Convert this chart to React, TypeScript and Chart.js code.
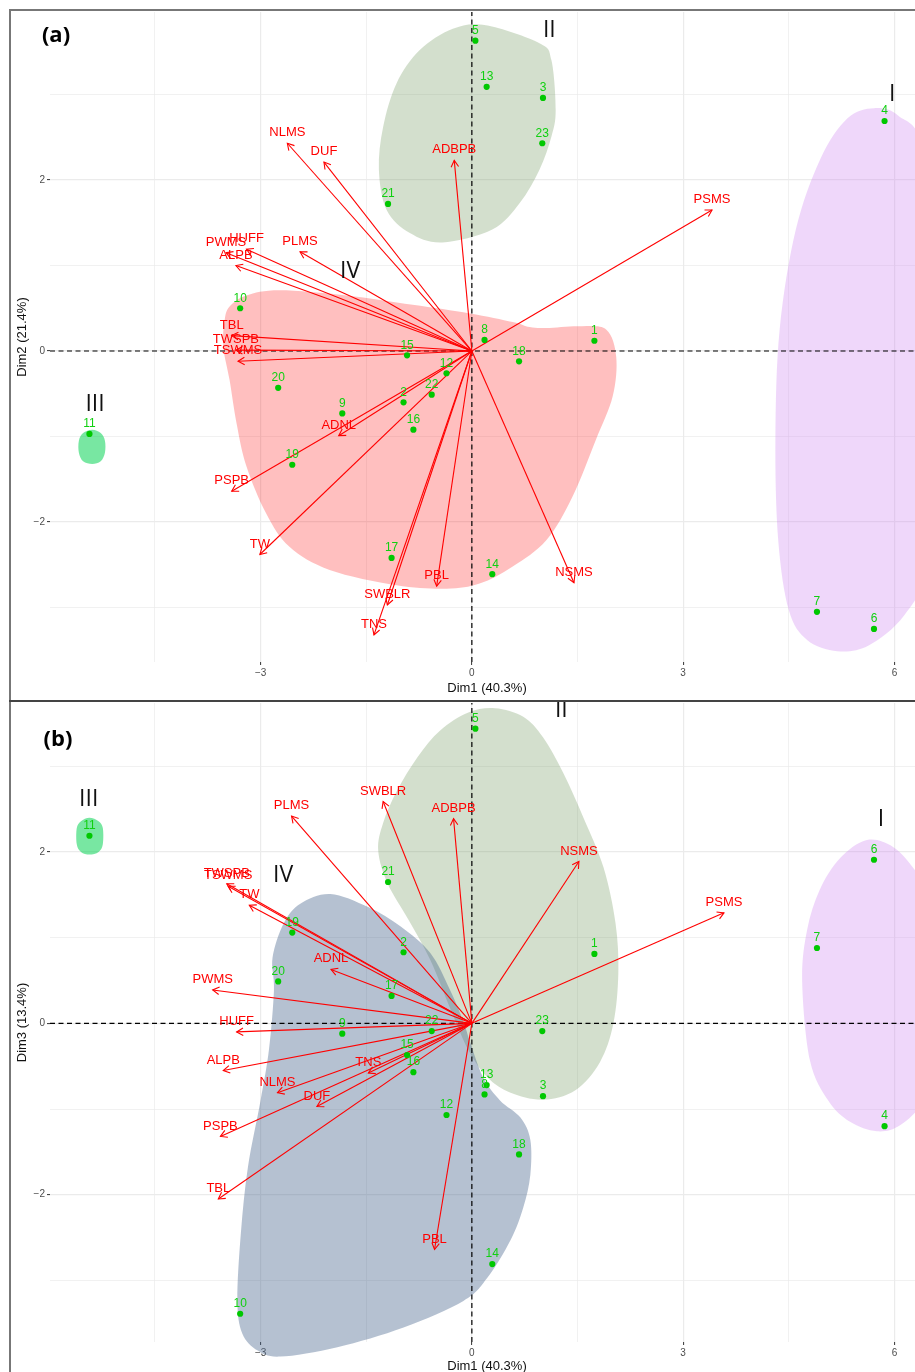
import React, { useEffect, useRef } from 'react';
import { Chart, registerables } from 'chart.js';

Chart.register(...registerables);

const FONT = "'Liberation Sans', Arial, Helvetica, sans-serif";
const GROUP_FONT = "'Open Sans', 'Liberation Sans', sans-serif";

// ---- individuals (samples) ----
const samples = ['1','2','3','4','5','6','7','8','9','10','11','12','13','14','15','16','17','18','19','20','21','22','23'];
const dim1 = [1.74, -0.97, 1.01, 5.86, 0.05, 5.71, 4.90, 0.18, -1.84, -3.29, -5.43, -0.36, 0.21, 0.29, -0.92, -0.83, -1.14, 0.67, -2.55, -2.75, -1.19, -0.57, 1.00];
const dim2 = [0.12, -0.60, 2.96, 2.69, 3.63, -3.25, -3.05, 0.13, -0.73, 0.50, -0.97, -0.26, 3.09, -2.61, -0.05, -0.92, -2.42, -0.12, -1.33, -0.43, 1.72, -0.51, 2.43];
const dim3 = [0.81, 0.83, -0.85, -1.20, 3.44, 1.91, 0.88, -0.83, -0.12, -3.39, 2.19, -1.07, -0.72, -2.81, -0.37, -0.57, 0.32, -1.53, 1.06, 0.49, 1.65, -0.09, -0.09];

// ---- variables (arrows) ----
const variables = ['NLMS','DUF','ADBPB','PSMS','HUFF','PWMS','ALPB','PLMS','TBL','TWSPB','TSWMS','ADNL','PSPB','TW','SWBLR','TNS','PBL','NSMS'];
const varDim1A = [-2.62, -2.10, -0.25, 3.41, -3.20, -3.49, -3.35, -2.44, -3.41, -3.35, -3.32, -1.89, -3.41, -3.01, -1.20, -1.39, -0.50, 1.45];
const varDim2A = [2.43, 2.21, 2.23, 1.65, 1.19, 1.15, 1.00, 1.16, 0.18, 0.01, -0.12, -0.99, -1.64, -2.38, -2.97, -3.32, -2.75, -2.71];
const varDim1B = [-2.76, -2.20, -0.26, 3.58, -3.34, -3.68, -3.53, -2.56, -3.60, -3.48, -3.46, -2.00, -3.57, -3.16, -1.26, -1.47, -0.53, 1.52];
const varDim3B = [-0.81, -0.97, 2.39, 1.29, -0.10, 0.39, -0.55, 2.42, -2.05, 1.63, 1.60, 0.63, -1.32, 1.38, 2.59, -0.58, -2.64, 1.89];

// ---- axes ----
const xTickValues = [-4.5, -3, -1.5, 0, 1.5, 3, 4.5, 6];
const xTickLabels = ['', '\u22123', '', '0', '', '3', '', '6'];
const yTickValues = [-3, -2, -1, 0, 1, 2, 3];
const yTickLabels = ['', '\u22122', '', '0', '', '2', ''];
const X_MIN = -5.99;
const X_MAX = 6.42;

// ---- group outlines ----
const hullA_II = [[0.20,3.81],[0.96,3.60],[1.13,3.40],[1.19,2.82],[1.13,2.51],[0.96,2.12],[0.68,1.73],[0.29,1.42],[-0.42,1.27],[-0.88,1.38],[-1.21,1.65],[-1.32,2.12],[-1.26,2.62],[-1.07,3.13],[-0.74,3.52],[-0.27,3.77]];
const hullA_IV = [[-3.44,0.52],[-3.20,0.65],[-2.73,0.71],[-1.78,0.65],[-0.84,0.54],[-0.03,0.44],[0.58,0.34],[0.82,0.28],[1.06,0.27],[1.53,0.29],[1.91,0.25],[2.05,-0.07],[2.00,-0.53],[1.76,-1.04],[1.43,-1.70],[1.06,-2.21],[0.58,-2.52],[0.11,-2.72],[-0.36,-2.78],[-1.07,-2.74],[-2.02,-2.56],[-2.59,-2.29],[-2.92,-1.90],[-3.20,-1.35],[-3.34,-0.85],[-3.44,-0.34],[-3.53,0.05],[-3.51,0.36]];
const hullA_I = [[5.71,2.84],[6.06,2.75],[6.42,2.35],[6.77,0.60],[6.84,-1.16],[6.56,-2.44],[6.14,-3.09],[5.64,-3.44],[5.19,-3.51],[4.76,-3.38],[4.50,-3.03],[4.35,-2.21],[4.31,-1.04],[4.37,0.25],[4.60,1.42],[4.95,2.25],[5.33,2.72]];
const hullA_III = [[-5.39,-0.92],[-5.27,-0.96],[-5.21,-1.05],[-5.21,-1.19],[-5.27,-1.29],[-5.39,-1.32],[-5.52,-1.29],[-5.58,-1.19],[-5.58,-1.05],[-5.52,-0.96]];

const hullB_II = [[0.33,3.68],[0.73,3.58],[1.01,3.34],[1.30,2.92],[1.58,2.41],[1.87,1.82],[2.04,1.17],[2.08,0.59],[2.01,0.00],[1.82,-0.45],[1.47,-0.78],[1.01,-0.89],[0.55,-0.81],[0.22,-0.63],[-0.05,-0.31],[-0.30,0.16],[-0.59,0.74],[-0.90,1.21],[-1.20,1.64],[-1.33,2.02],[-1.26,2.34],[-1.06,2.72],[-0.77,3.11],[-0.45,3.42],[-0.05,3.63]];
const hullB_IV = [[-2.01,1.51],[-1.48,1.36],[-1.01,1.13],[-0.59,0.82],[-0.31,0.39],[-0.12,0.02],[-0.02,-0.23],[0.16,-0.63],[0.40,-0.90],[0.69,-1.10],[0.83,-1.36],[0.83,-1.77],[0.73,-2.15],[0.55,-2.53],[0.22,-2.97],[-0.12,-3.24],[-0.97,-3.55],[-1.91,-3.78],[-2.72,-3.89],[-3.04,-3.82],[-3.26,-3.62],[-3.33,-3.23],[-3.28,-2.45],[-3.18,-1.68],[-3.00,-0.90],[-2.88,-0.30],[-2.81,0.39],[-2.83,0.77],[-2.67,1.17],[-2.43,1.40]];
const hullB_I = [[5.61,2.14],[5.98,2.06],[6.29,1.79],[6.65,1.32],[6.79,0.51],[6.72,-0.31],[6.43,-0.89],[6.08,-1.19],[5.75,-1.26],[5.37,-1.15],[5.06,-0.90],[4.80,-0.43],[4.69,0.49],[4.76,1.09],[4.94,1.56],[5.23,1.93]];
const hullB_III = [[-5.43,2.40],[-5.30,2.36],[-5.24,2.28],[-5.24,2.09],[-5.30,2.00],[-5.43,1.97],[-5.55,2.00],[-5.61,2.09],[-5.61,2.28],[-5.55,2.36]];

const groupNames = ['I', 'II', 'III', 'IV'];
const groupPosA = [[5.97, 3.00], [1.10, 3.75], [-5.35, -0.63], [-1.73, 0.93]];
const groupPosB = [[5.81, 2.38], [1.27, 3.65], [-5.44, 2.61], [-2.68, 1.73]];

const COL_II = 'rgba(110,150,90,0.30)';
const COL_IV_A = 'rgba(255,0,0,0.25)';
const COL_IV_B = 'rgba(70,100,140,0.40)';
const COL_I = 'rgba(205,130,240,0.32)';
const COL_III = 'rgba(0,210,80,0.53)';
const ARROW = '#ff0000';
const POINT = '#00c800';
const LABEL_GREEN = '#10d010';

type Cfg = {
  top: number; height: number; yMin: number; yMax: number; yTitle: string;
  ys: number[]; varX: number[]; varY: number[];
  hulls: { pts: number[][]; color: string }[];
  groupPos: number[][]; xAxisH: number; padB: number;
  tag: string; tagX: number; tagY: number;
};

const panelA: Cfg = {
  top: 11, height: 689, yMin: -3.637, yMax: 3.965, yTitle: 'Dim2 (21.4%)',
  ys: dim2, varX: varDim1A, varY: varDim2A,
  hulls: [
    { pts: hullA_II, color: COL_II },
    { pts: hullA_IV, color: COL_IV_A },
    { pts: hullA_I, color: COL_I },
    { pts: hullA_III, color: COL_III },
  ],
  groupPos: groupPosA, xAxisH: 33.8, padB: 4.2,
  tag: '(a)', tagX: 45, tagY: 25,
};

const panelB: Cfg = {
  top: 702, height: 680, yMin: -3.72, yMax: 3.74, yTitle: 'Dim3 (13.4%)',
  ys: dim3, varX: varDim1B, varY: varDim3B,
  hulls: [
    { pts: hullB_II, color: COL_II },
    { pts: hullB_IV, color: COL_IV_B },
    { pts: hullB_I, color: COL_I },
    { pts: hullB_III, color: COL_III },
  ],
  groupPos: groupPosB, xAxisH: 32.5, padB: 7.5,
  tag: '(b)', tagX: 47, tagY: 38,
};

const CANVAS_W = 913;

function Panel({ cfg }: { cfg: Cfg }) {
  const ref = useRef<HTMLCanvasElement | null>(null);
  useEffect(() => {
    const canvas = ref.current;
    if (!canvas) return;

    const biplot = {
      id: 'biplotDecor',
      beforeDatasetsDraw(chart: any) {
        const { ctx } = chart;
        const xs = chart.scales.x, ys = chart.scales.y;
        ctx.save();
        for (const h of cfg.hulls) {
          const p = h.pts.map(([a, b]) => [xs.getPixelForValue(a), ys.getPixelForValue(b)]);
          const n = p.length;
          ctx.beginPath();
          ctx.moveTo(p[0][0], p[0][1]);
          for (let i = 0; i < n; i++) {
            const p0 = p[(i - 1 + n) % n], p1 = p[i], p2 = p[(i + 1) % n], p3 = p[(i + 2) % n];
            const t = 1 / 6;
            ctx.bezierCurveTo(
              p1[0] + (p2[0] - p0[0]) * t, p1[1] + (p2[1] - p0[1]) * t,
              p2[0] - (p3[0] - p1[0]) * t, p2[1] - (p3[1] - p1[1]) * t,
              p2[0], p2[1]
            );
          }
          ctx.closePath();
          ctx.fillStyle = h.color;
          ctx.fill();
        }
        ctx.restore();
      },
      afterDatasetsDraw(chart: any) {
        const { ctx } = chart;
        const xs = chart.scales.x, ys = chart.scales.y;
        const ox = xs.getPixelForValue(0), oy = ys.getPixelForValue(0);
        ctx.save();
        // arrow heads
        ctx.strokeStyle = ARROW;
        ctx.lineWidth = 1.1;
        variables.forEach((_, i) => {
          const tx = xs.getPixelForValue(cfg.varX[i]);
          const ty = ys.getPixelForValue(cfg.varY[i]);
          const a = Math.atan2(ty - oy, tx - ox);
          const L = 7.5, w = Math.PI / 6;
          ctx.beginPath();
          ctx.moveTo(tx - L * Math.cos(a - w), ty - L * Math.sin(a - w));
          ctx.lineTo(tx, ty);
          ctx.lineTo(tx - L * Math.cos(a + w), ty - L * Math.sin(a + w));
          ctx.stroke();
        });
        ctx.textAlign = 'center';
        ctx.textBaseline = 'middle';
        // sample labels
        ctx.font = `12px ${FONT}`;
        ctx.fillStyle = LABEL_GREEN;
        samples.forEach((s, i) => {
          ctx.fillText(s, xs.getPixelForValue(dim1[i]), ys.getPixelForValue(cfg.ys[i]) - 10);
        });
        // variable labels
        ctx.font = `13px ${FONT}`;
        ctx.fillStyle = ARROW;
        variables.forEach((v, i) => {
          ctx.fillText(v, xs.getPixelForValue(cfg.varX[i]), ys.getPixelForValue(cfg.varY[i]) - 10.5);
        });
        // group labels
        ctx.font = `23px ${GROUP_FONT}`;
        ctx.fillStyle = '#111';
        groupNames.forEach((g, i) => {
          ctx.fillText(g, xs.getPixelForValue(cfg.groupPos[i][0]), ys.getPixelForValue(cfg.groupPos[i][1]));
        });
        // panel tag
        ctx.font = `bold 22px ${GROUP_FONT}`;
        ctx.fillStyle = '#000';
        ctx.fillText(cfg.tag, cfg.tagX, cfg.tagY);
        ctx.restore();
      },
    };

    const pointData = samples.map((_, i) => ({ x: dim1[i], y: cfg.ys[i] }));
    const arrowSets = variables.map((v, i) => ({
      label: v,
      data: [{ x: 0, y: 0 }, { x: cfg.varX[i], y: cfg.varY[i] }],
      showLine: true,
      borderColor: ARROW,
      borderWidth: 1.1,
      pointRadius: 0,
      order: 3,
    }));

    const chart = new Chart(canvas, {
      type: 'scatter',
      data: {
        datasets: [
          {
            label: 'individuals',
            data: pointData,
            pointRadius: 3.1,
            backgroundColor: POINT,
            borderWidth: 0,
            order: 1,
          } as any,
          ...arrowSets,
          {
            label: 'h0',
            data: [{ x: X_MIN, y: 0 }, { x: X_MAX, y: 0 }],
            showLine: true, borderColor: '#000', borderWidth: 1.2, borderDash: [5, 3.5],
            pointRadius: 0, order: 6,
          },
          {
            label: 'v0',
            data: [{ x: 0, y: cfg.yMin }, { x: 0, y: cfg.yMax }],
            showLine: true, borderColor: '#000', borderWidth: 1.2, borderDash: [5, 3.5],
            pointRadius: 0, order: 6,
          },
        ],
      },
      options: {
        animation: false,
        responsive: false,
        maintainAspectRatio: false,
        devicePixelRatio: 1,
        events: [],
        layout: { autoPadding: false, padding: { left: 2, top: 1, right: 0, bottom: cfg.padB } },
        plugins: { legend: { display: false }, tooltip: { enabled: false } },
        scales: {
          x: {
            type: 'linear',
            min: X_MIN,
            max: X_MAX,
            afterBuildTicks: (s: any) => { s.ticks = xTickValues.map((v) => ({ value: v })); },
            afterFit: (s: any) => { s.height = cfg.xAxisH; s.paddingLeft = 0; s.paddingRight = 0; s.paddingTop = 0; s.paddingBottom = 0; },
            border: { display: false },
            grid: {
              color: '#ebebeb',
              lineWidth: (c: any) => (xTickLabels[xTickValues.indexOf(c.tick?.value)] ? 1.2 : 0.7),
              tickLength: 3,
              tickWidth: 1,
              tickColor: (c: any) => (xTickLabels[xTickValues.indexOf(c.tick?.value)] ? '#333' : 'rgba(0,0,0,0)'),
            },
            ticks: {
              autoSkip: false, maxRotation: 0, minRotation: 0, padding: 2,
              color: '#4d4d4d', font: { size: 10, family: FONT },
              callback: (v: any) => xTickLabels[xTickValues.indexOf(Number(v))] ?? '',
            },
            title: {
              display: true, text: 'Dim1 (40.3%)', color: '#111',
              font: { size: 13, family: FONT }, padding: { top: 0, bottom: 0 },
            },
          },
          y: {
            type: 'linear',
            min: cfg.yMin,
            max: cfg.yMax,
            afterBuildTicks: (s: any) => { s.ticks = yTickValues.map((v) => ({ value: v })); },
            afterFit: (s: any) => { s.width = 37; s.paddingLeft = 0; s.paddingRight = 0; s.paddingTop = 0; s.paddingBottom = 0; },
            border: { display: false },
            grid: {
              color: '#ebebeb',
              lineWidth: (c: any) => (yTickLabels[yTickValues.indexOf(c.tick?.value)] ? 1.2 : 0.7),
              tickLength: 3,
              tickWidth: 1,
              tickColor: (c: any) => (yTickLabels[yTickValues.indexOf(c.tick?.value)] ? '#333' : 'rgba(0,0,0,0)'),
            },
            ticks: {
              autoSkip: false, padding: 2,
              color: '#4d4d4d', font: { size: 10, family: FONT },
              callback: (v: any) => yTickLabels[yTickValues.indexOf(Number(v))] ?? '',
            },
            title: {
              display: true, text: cfg.yTitle, color: '#111',
              font: { size: 13, family: FONT }, padding: { top: 1.5, bottom: 0 },
            },
          },
        },
      } as any,
      plugins: [biplot],
    });
    return () => chart.destroy();
  }, []);

  return (
    <canvas
      ref={ref}
      width={CANVAS_W}
      height={cfg.height}
      style={{ position: 'absolute', left: 11, top: cfg.top, width: CANVAS_W, height: cfg.height }}
    />
  );
}

export default function App() {
  return (
    <div style={{ position: 'absolute', left: 0, top: 0, width: 915, height: 1372, overflow: 'hidden', background: '#fff' }}>
      <Panel cfg={panelA} />
      <Panel cfg={panelB} />
      <div style={{ position: 'absolute', left: 9, top: 9, width: 920, height: 1.5, background: '#777' }} />
      <div style={{ position: 'absolute', left: 9, top: 9, width: 1.5, height: 1380, background: '#777' }} />
      <div style={{ position: 'absolute', left: 9, top: 700, width: 920, height: 2, background: '#444' }} />
    </div>
  );
}
